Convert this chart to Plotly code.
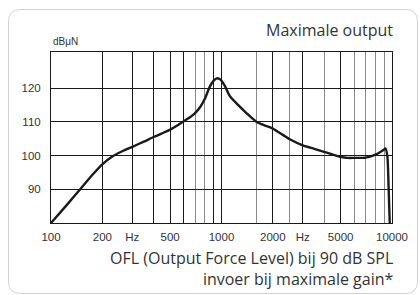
import plotly.graph_objects as go

# Data
freq_hz = [100, 125, 150, 175, 200, 230, 260, 300, 350, 400, 450, 500, 550, 600, 650,
           700, 750, 800, 850, 900, 940, 980, 1000, 1050, 1120, 1250, 1400, 1600, 1800,
           2000, 2500, 3000, 3500, 4000, 4500, 5000, 5500, 6000, 7000, 8000, 8500,
           9000, 9150, 9400, 9550, 9700]
ofl_db = [80, 85.6, 90.3, 94.3, 97.4, 99.8, 101.2, 102.6, 104.1, 105.5, 106.6, 107.7,
          108.9, 110.2, 111.3, 112.6, 114.4, 116.9, 120.2, 122.2, 122.9, 122.6, 122.2,
          120.5, 117.6, 115.0, 112.6, 110.0, 108.9, 108.0, 104.9, 103.0, 102.0, 101.1,
          100.3, 99.6, 99.3, 99.3, 99.4, 100.3, 101.0, 101.8, 102.1, 99.6, 90.7, 80]

x_major = [100, 200, 300, 400, 500, 600, 900, 1000, 2000, 3000, 5000, 10000]
x_major_text = ["100", "200", "Hz", "", "500", "", "", "1000", "2000", "Hz", "5000", "10000"]
x_minor = [700, 800, 1600, 2500, 4000, 6000, 7000, 8000, 9000]
y_ticks = [90, 100, 110, 120]

W, H = 420, 295
ML, MR, MT, MB = 51, 28, 52, 72
PW, PH = W - ML - MR, H - MT - MB


def px(x):
    return (x - ML) / PW


def py(y):
    return (H - MB - y) / PH


fig = go.Figure()
fig.add_trace(go.Scatter(x=freq_hz, y=ofl_db, mode="lines",
                         line=dict(color="#1a1a1a", width=2.4, shape="spline", smoothing=0.6),
                         hoverinfo="skip", showlegend=False, cliponaxis=True))

tickfont = dict(family="Liberation Sans, Arial, sans-serif", size=11.5, color="#333333")
fig.update_xaxes(type="log", range=[2, 4], tickmode="array", tickvals=x_major,
                 ticktext=x_major_text, showgrid=True, gridcolor="#1a1a1a", gridwidth=1,
                 showline=True, linecolor="#1a1a1a", linewidth=1, mirror=True,
                 ticks="", tickfont=tickfont, zeroline=False, ticklabelstandoff=3,
                 minor=dict(tickmode="array", tickvals=x_minor, showgrid=True,
                            gridcolor="#8a8a8a", gridwidth=1, ticks=""))
fig.update_yaxes(range=[80, 130.7], tickmode="array", tickvals=y_ticks,
                 showgrid=True, gridcolor="#1a1a1a", gridwidth=1,
                 showline=True, linecolor="#1a1a1a", linewidth=1, mirror=True,
                 ticks="", tickfont=tickfont, zeroline=False, ticklabelstandoff=7)

# rounded card border
L, T, R, B, r = 8.5, 9.5, 417.5, 293.5, 12
path = (f"M {px(L)},{py(B - r)} L {px(L)},{py(T + r)} Q {px(L)},{py(T)} {px(L + r)},{py(T)} "
        f"L {px(R - r)},{py(T)} Q {px(R)},{py(T)} {px(R)},{py(T + r)} "
        f"L {px(R)},{py(B - r)} Q {px(R)},{py(B)} {px(R - r)},{py(B)} "
        f"L {px(L + r)},{py(B)} Q {px(L)},{py(B)} {px(L)},{py(B - r)} Z")
fig.add_shape(type="path", path=path, xref="paper", yref="paper", layer="below",
              line=dict(color="#d2d2d2", width=1))

textfont = dict(family="Open Sans, Noto Sans, sans-serif", size=16, color="#333333")
fig.add_annotation(text="dBμN", x=0, y=py(42), xref="paper", yref="paper",
                   xanchor="left", yanchor="middle", showarrow=False,
                   font=dict(family="Liberation Sans, Arial, sans-serif", size=10, color="#333333"))
fig.add_annotation(text="Maximale output", x=px(395), y=py(30), xref="paper", yref="paper",
                   xanchor="right", yanchor="middle", showarrow=False, font=textfont)
fig.add_annotation(text="OFL (Output Force Level) bij 90 dB SPL<br>invoer bij maximale gain*",
                   x=px(395), y=py(268.5), xref="paper", yref="paper",
                   xanchor="right", yanchor="middle", align="right",
                   showarrow=False, font=textfont)

fig.update_layout(width=W, height=H, margin=dict(l=ML, r=MR, t=MT, b=MB),
                  paper_bgcolor="white", plot_bgcolor="white")

fig.write_html("out.html", config={"displayModeBar": False},
               post_script="document.body.style.margin='0';document.body.style.overflow='hidden';")
